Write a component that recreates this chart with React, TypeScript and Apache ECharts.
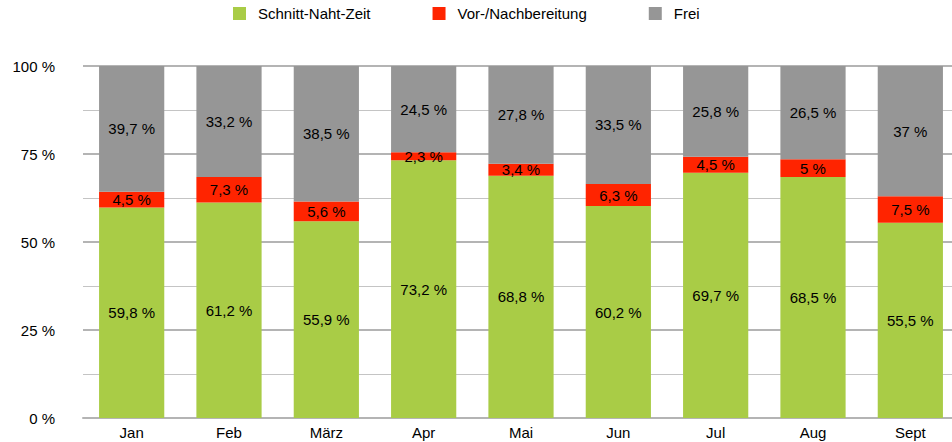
import React, { useEffect, useRef } from "react";
import * as echarts from "echarts";

const categories = ["Jan", "Feb", "März", "Apr", "Mai", "Jun", "Jul", "Aug", "Sept"];
const schnittNahtZeit = [59.8, 61.2, 55.9, 73.2, 68.8, 60.2, 69.7, 68.5, 55.5];
const vorNachbereitung = [4.5, 7.3, 5.6, 2.3, 3.4, 6.3, 4.5, 5, 7.5];
const frei = [39.7, 33.2, 38.5, 24.5, 27.8, 33.5, 25.8, 26.5, 37];
const yTicks = [0, 25, 50, 75, 100];

const fmt = (v: number) => String(v).replace(".", ",") + " %";

export default function App() {
  const ref = useRef<HTMLDivElement>(null);
  useEffect(() => {
    if (!ref.current) return;
    const chart = echarts.init(ref.current, undefined, { renderer: "svg" });
    const font = "Liberation Sans, Arial, sans-serif";
    // The chart is stacked to 100 %: the "Frei" segment fills the rest of the bar.
    const freiFill = frei.map((_, i) => Math.max(0, 100 - schnittNahtZeit[i] - vorNachbereitung[i]));
    const label = (arr: number[]) => ({
      show: true,
      position: "inside" as const,
      color: "#000",
      fontSize: 15,
      fontFamily: font,
      formatter: (p: any) => fmt(arr[p.dataIndex]),
    });
    chart.setOption({
      animation: false,
      textStyle: { fontFamily: font },
      legend: {
        top: 6,
        left: 233,
        padding: 0,
        itemWidth: 13,
        itemHeight: 13,
        itemGap: 62,
        icon: "rect",
        textStyle: { fontSize: 15, color: "#000", fontFamily: font, padding: [0, 0, 0, 7] },
        data: ["Schnitt-Naht-Zeit", "Vor-/Nachbereitung", "Frei"],
      },
      grid: { left: 83, right: 1, top: 66, bottom: 24 },
      xAxis: {
        type: "category",
        data: categories,
        axisLine: { show: true, lineStyle: { color: "#b4b4b4", width: 2 } },
        axisTick: { show: false },
        axisLabel: { color: "#000", fontSize: 15, fontFamily: font, margin: 7 },
      },
      yAxis: {
        type: "value",
        min: yTicks[0],
        max: yTicks[yTicks.length - 1],
        interval: 25,
        axisLine: { show: false },
        axisTick: { show: false },
        axisLabel: {
          color: "#000",
          fontSize: 15,
          fontFamily: font,
          margin: 28,
          formatter: (v: number) => v + " %",
        },
        splitLine: { show: true, lineStyle: { color: "#b4b4b4", width: 2 } },
        minorTick: { show: false, splitNumber: 2 },
        minorSplitLine: { show: true, lineStyle: { color: "#c4c4c4", width: 1 } },
      },
      series: [
        {
          name: "Schnitt-Naht-Zeit",
          type: "bar",
          stack: "t",
          barWidth: "67%",
          data: schnittNahtZeit,
          itemStyle: { color: "#a9cc46" },
          label: label(schnittNahtZeit),
        },
        {
          name: "Vor-/Nachbereitung",
          type: "bar",
          stack: "t",
          data: vorNachbereitung,
          itemStyle: { color: "#ff2400" },
          label: label(vorNachbereitung),
        },
        {
          name: "Frei",
          type: "bar",
          stack: "t",
          data: freiFill,
          itemStyle: { color: "#969696" },
          label: label(frei),
        },
      ],
    });
    return () => chart.dispose();
  }, []);
  return (
    <div style={{ width: 952, height: 442, position: "absolute", left: 0, top: 0, overflow: "hidden" }}>
      <div ref={ref} style={{ width: 960, height: 442 }} />
    </div>
  );
}
